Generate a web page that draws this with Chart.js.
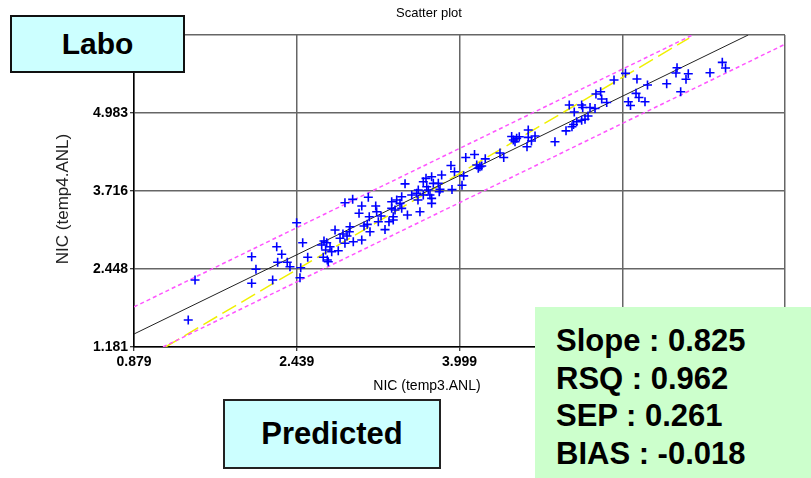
<!DOCTYPE html>
<html>
<head>
<meta charset="utf-8">
<script src="https://cdn.jsdelivr.net/npm/chart.js@4/dist/chart.umd.min.js"></script>
<style>
  html, body { margin:0; padding:0; background:#fff; }
  #wrap { position:relative; width:811px; height:478px; overflow:hidden; font-family:"Liberation Sans", Arial, sans-serif; }
  canvas { position:absolute; left:0; top:0; }
  .lbl { position:absolute; color:#000; white-space:nowrap; text-align:center; }
  #title { left:329px; top:5px; width:200px; font-size:13px; line-height:16px; }
  #xtitle { left:327px; top:376px; width:200px; font-size:14px; line-height:18px; }
  #ytitle { left:-37px; top:189px; width:200px; height:20px; font-size:17px; line-height:20px; transform:rotate(-90deg); transform-origin:50% 50%; color:#222; }
  .box { position:absolute; box-sizing:border-box; display:flex; align-items:center; justify-content:center; font-weight:bold; color:#000; }
  #labo { left:10px; top:15px; width:175px; height:58px; border:2px solid #111; background:#ccffff; font-size:30px; }
  #pred { left:223px; top:399px; width:218px; height:70px; border:2px solid #222; background:#ccffff; font-size:31px; }
  #stats { position:absolute; left:535px; top:307px; width:276px; height:171px; background:#ccffcc; box-sizing:border-box; padding:15px 0 0 21px; font-weight:bold; font-size:31px; line-height:37.7px; color:#000; }
</style>
</head>
<body>
<div id="wrap">
  <canvas id="c" width="811" height="478"></canvas>
  <div id="title" class="lbl">Scatter plot</div>
  <div id="xtitle" class="lbl">NIC (temp3.ANL)</div>
  <div id="ytitle" class="lbl">NIC (temp4.ANL)</div>
  <div id="labo" class="box">Labo</div>
  <div id="pred" class="box">Predicted</div>
  <div id="stats"></div>
</div>
<script>
// ---- data ----
const xTicks = [0.879, 2.439, 3.999, 5.559, 7.119];
const xTickLabels = ["0.879", "2.439", "3.999", "5.559", "7.119"];
const yTicks = [1.181, 2.448, 3.716, 4.983, 6.250];
const yTickLabels = ["1.181", "2.448", "3.716", "4.983", "6.250"];

// predicted (x) and labo (y) values of the samples
const predicted = [
  6.518, 6.549, 6.400, 6.084, 6.074, 6.192, 6.170, 6.119, 5.985, 5.801,
  5.700, 5.590, 5.480, 5.691, 5.719, 5.777, 5.617, 5.638, 5.307, 5.352,
  5.362, 5.410, 5.170, 5.180, 5.250, 5.298, 5.231, 5.202, 5.170, 5.051,
  5.099, 5.122, 5.092, 5.077, 5.020, 4.914, 4.658, 4.646, 4.689, 4.723,
  4.658, 4.499, 4.515, 4.572, 4.547, 4.531, 4.387, 4.423, 4.143, 4.059,
  4.246, 4.164, 4.195, 4.179, 4.212,
  3.917, 3.951, 4.039, 4.023, 3.927, 3.828, 3.732, 3.678, 3.652, 3.748,
  3.796, 3.812, 3.805, 3.685, 3.700, 3.604, 3.716, 3.732, 3.732, 3.652,
  3.541, 3.589, 3.477, 3.445, 3.349, 3.397, 3.429, 3.349, 3.381, 3.445,
  3.620, 3.601, 3.500, 3.364, 3.323, 3.285,
  2.901, 2.975, 3.125, 3.062, 3.036, 3.196, 3.205, 3.134, 3.247, 3.221,
  3.115, 3.084, 3.141, 2.806, 2.943, 2.921, 2.882, 2.854, 2.901, 2.981,
  3.062, 2.700, 2.726, 2.678, 2.758, 2.837, 2.716, 2.774, 2.693, 2.732,
  2.741, 2.949, 3.364,
  1.399, 1.464, 2.007, 2.007, 2.048, 2.208, 2.247, 2.295, 2.256, 2.348,
  2.374, 2.496, 2.544, 2.477, 2.470, 2.438
];
const labo = [
  5.806, 5.713, 5.637, 5.718, 5.632, 5.621, 5.531, 5.328, 5.458, 5.437,
  5.534, 5.627, 5.518, 5.302, 5.234, 5.166, 5.166, 5.104, 5.291, 5.328,
  5.210, 5.153, 5.112, 5.071, 5.071, 5.055, 4.933, 4.880, 4.864, 5.112,
  4.998, 4.841, 4.795, 4.760, 4.693, 4.516, 4.706, 4.435, 4.527, 4.608,
  4.587, 4.600, 4.544, 4.597, 4.571, 4.516, 4.332, 4.259, 4.308, 4.259,
  4.238, 4.137, 4.110, 4.084, 4.121,
  4.129, 4.029, 3.962, 3.808, 3.738, 3.975, 3.947, 3.921, 3.866, 3.840,
  3.840, 3.743, 3.704, 3.785, 3.731, 3.731, 3.650, 3.596, 3.515, 3.650,
  3.650, 3.678, 3.832, 3.622, 3.541, 3.569, 3.515, 3.434, 3.406, 3.434,
  3.379, 3.569, 3.325, 3.244, 3.216, 3.088,
  3.525, 3.580, 3.613, 3.471, 3.353, 3.471, 3.379, 3.298, 3.309, 3.216,
  3.174, 3.147, 3.054, 3.082, 3.054, 2.984, 3.017, 2.947, 2.866, 2.891,
  2.919, 2.903, 2.875, 2.838, 2.810, 2.745, 2.757, 2.729, 2.638, 2.594,
  2.567, 3.135, 3.298,
  1.620, 2.269, 2.648, 2.216, 2.443, 2.269, 2.810, 2.687, 2.557, 2.557,
  2.485, 2.875, 2.638, 2.469, 2.307, 3.200
];

// regression line, its ±band and the 1:1 line (end points)
const fitLineX = [0.879, 6.766];
const fitLineY = [1.392, 6.250];
const upperBandX = [0.879, 6.233];
const upperBandY = [1.832, 6.250];
const lowerBandX = [1.157, 7.119];
const lowerBandY = [1.181, 6.100];
const identityX = [1.181, 6.200];
const identityY = [1.181, 6.200];

const statLines = ["Slope : 0.825", "RSQ : 0.962", "SEP : 0.261", "BIAS : -0.018"];

// ---- build ----
document.getElementById('stats').innerHTML = statLines.map(s => '<div>' + s + '</div>').join('');

const pts = (xs, ys) => xs.map((x, i) => ({ x: x, y: ys[i] }));
const tickFont = { family: '"Liberation Sans", Arial, sans-serif', size: 14, weight: 'bold' };

new Chart(document.getElementById('c'), {
  type: 'scatter',
  data: {
    datasets: [
      {
        data: pts(predicted, labo),
        pointStyle: 'cross', pointRadius: 4.5, pointBorderWidth: 1.6,
        borderColor: '#0000ff', backgroundColor: '#0000ff', showLine: false
      },
      {
        data: pts(fitLineX, fitLineY), showLine: true, pointRadius: 0,
        borderColor: '#222222', borderWidth: 1
      },
      {
        data: pts(upperBandX, upperBandY), showLine: true, pointRadius: 0,
        borderColor: '#ff55ff', borderWidth: 1.5, borderDash: [4, 3]
      },
      {
        data: pts(lowerBandX, lowerBandY), showLine: true, pointRadius: 0,
        borderColor: '#ff55ff', borderWidth: 1.5, borderDash: [4, 3]
      },
      {
        data: pts(identityX, identityY), showLine: true, pointRadius: 0,
        borderColor: '#f0f000', borderWidth: 1.5, borderDash: [16, 6]
      }
    ]
  },
  options: {
    responsive: false, animation: false, devicePixelRatio: 1,
    layout: { padding: { top: 35, right: 26, left: 0, bottom: 0 } },
    plugins: { legend: { display: false }, tooltip: { enabled: false }, title: { display: false } },
    scales: {
      x: {
        type: 'linear', min: xTicks[0], max: xTicks[xTicks.length - 1],
        afterBuildTicks: s => { s.ticks = xTicks.map(v => ({ value: v })); },
        afterFit: s => { s.height = 131; },
        ticks: {
          autoSkip: false, maxRotation: 0, padding: 3, color: '#000', font: tickFont,
          callback: v => xTickLabels[xTicks.indexOf(v)]
        },
        grid: { color: '#666', lineWidth: 1.5, tickLength: 4, tickColor: '#000', tickWidth: 1 },
        border: { color: '#000', width: 1.5 }
      },
      y: {
        type: 'linear', min: yTicks[0], max: yTicks[yTicks.length - 1],
        afterBuildTicks: s => { s.ticks = yTicks.map(v => ({ value: v })); },
        afterFit: s => { s.width = 134; },
        ticks: {
          autoSkip: false, padding: 2, color: '#000', font: tickFont,
          callback: v => yTickLabels[yTicks.indexOf(v)]
        },
        grid: { color: '#666', lineWidth: 1.5, tickLength: 4, tickColor: '#000', tickWidth: 1 },
        border: { color: '#000', width: 1.5 }
      }
    }
  }
});
</script>
</body>
</html>
